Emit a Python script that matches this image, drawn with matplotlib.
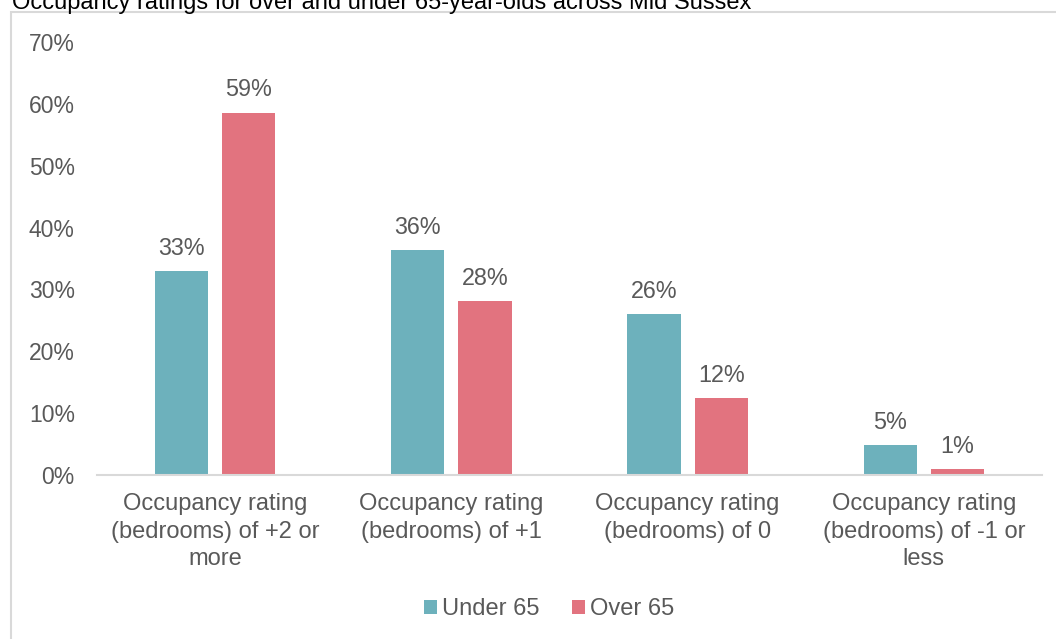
import matplotlib
matplotlib.use("Agg")
import matplotlib.pyplot as plt
from matplotlib.patches import Rectangle
import numpy as np

plt.rcParams['font.family'] = ['Liberation Sans', 'DejaVu Sans']

categories = [
    "Occupancy rating\n(bedrooms) of +2 or\nmore",
    "Occupancy rating\n(bedrooms) of +1",
    "Occupancy rating\n(bedrooms) of 0",
    "Occupancy rating\n(bedrooms) of -1 or\nless",
]
series_names = ["Under 65", "Over 65"]
under_65 = [33.0, 36.4, 26.0, 4.9]
over_65 = [58.6, 28.1, 12.4, 0.9]
y_ticks = [0, 10, 20, 30, 40, 50, 60, 70]
title = "Occupancy ratings for over and under 65-year-olds across Mid Sussex"

teal = "#6DB1BC"
pink = "#E2737F"
text_grey = "#595959"
line_grey = "#D9D9D9"

W, H, DPI = 1056, 639, 100
fig = plt.figure(figsize=(W / DPI, H / DPI), dpi=DPI)
ax = fig.add_axes([97 / W, 1 - 475 / H, (1042 - 97) / W, (475 - 42) / H])

x = np.arange(len(categories))
bw = 0.225
off = 0.142
for vals, col, dx, name in [(under_65, teal, -off, series_names[0]),
                            (over_65, pink, off, series_names[1])]:
    bars = ax.bar(x + dx, vals, width=bw, color=col, label=name, zorder=2)
    for b, v in zip(bars, vals):
        ax.annotate(f"{v:.0f}%", (b.get_x() + b.get_width() / 2, v),
                    xytext=(0, 8), textcoords="offset points",
                    ha="center", va="bottom", fontsize=16.8, color=text_grey)

ax.set_xlim(-0.5, len(categories) - 0.5)
ax.set_ylim(0, 70)
ax.set_yticks(y_ticks)
ax.set_yticklabels([f"{t}%" for t in y_ticks])
ax.set_xticks(x)
ax.set_xticklabels(categories, linespacing=1.33)
ax.tick_params(axis="both", length=0, labelcolor=text_grey)
ax.tick_params(axis="y", pad=16, labelsize=16.5)
ax.tick_params(axis="x", pad=13, labelsize=17)

for s in ["top", "right", "left"]:
    ax.spines[s].set_visible(False)
ax.spines["bottom"].set_color(line_grey)
ax.spines["bottom"].set_linewidth(1.5)

leg = fig.legend(loc="center", bbox_to_anchor=(549 / W, 1 - 609 / H), ncol=2,
                 frameon=False, fontsize=17, handlelength=0.55, handleheight=0.55,
                 handletextpad=0.2, columnspacing=1.4)
for t in leg.get_texts():
    t.set_color(text_grey)

# chart frame, running off the right and bottom edges
fig.patches.append(Rectangle((11 / W, -0.1), 1.2, 1 - 12 / H + 0.1,
                             transform=fig.transFigure, fill=False,
                             edgecolor=line_grey, linewidth=1.5))

fig.text(12 / W, 1 - 9 / H, title, ha="left", va="baseline",
         fontsize=17, color="black")

fig.savefig("out.png", dpi=DPI)
